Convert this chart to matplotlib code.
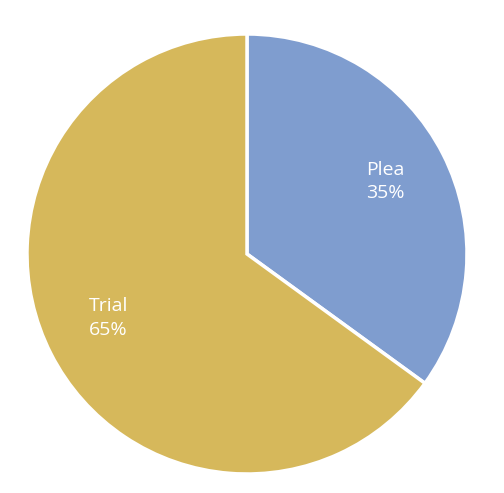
import matplotlib.pyplot as plt

# data
labels = ["Plea", "Trial"]
shares = [35, 65]
colors = ["#7F9DCF", "#D6B85B"]

fig = plt.figure(figsize=(5.04, 4.93), dpi=100)
# pie centred at ~(247, 254) px with radius ~220 px
ax = fig.add_axes([27 / 504, 19 / 493, 440 / 504, 440 / 493])

wedges, _ = ax.pie(shares, colors=colors, startangle=90, counterclock=False,
                   wedgeprops=dict(edgecolor="white", linewidth=2.5))
ax.set_xlim(-1, 1)
ax.set_ylim(-1, 1)
ax.set_aspect("equal")

# label spots (axes fraction), as Excel places them
spots = [(0.815, 0.665), (0.185, 0.355)]
for lab, val, (x, y) in zip(labels, shares, spots):
    ax.text(x, y, f"{lab}\n{val}%", transform=ax.transAxes, ha="center",
            va="center", color="white", fontsize=14, family="Open Sans",
            linespacing=1.4)

fig.savefig("out.png", dpi=100)
